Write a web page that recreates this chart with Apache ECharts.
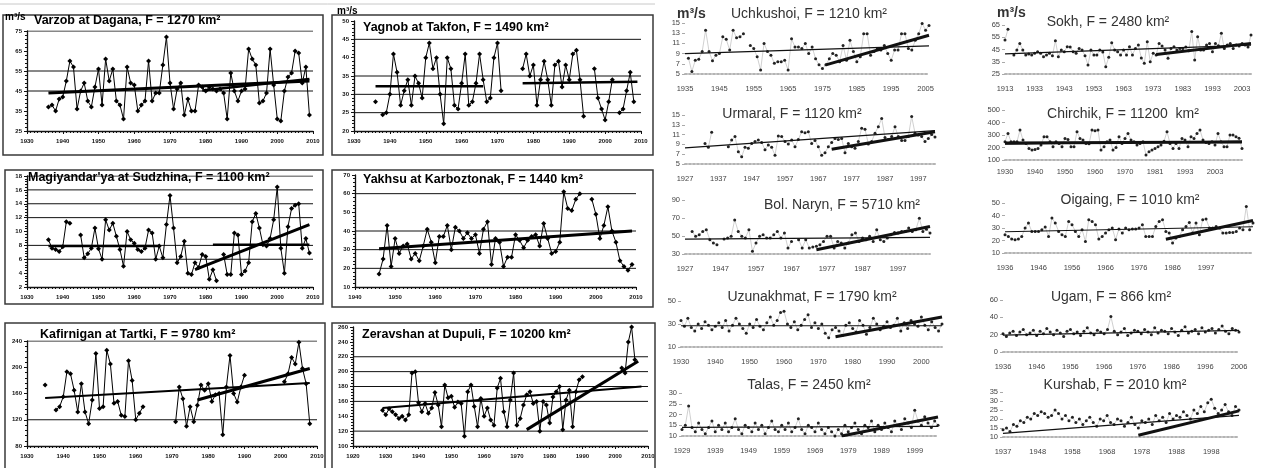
<!DOCTYPE html>
<html><head><meta charset="utf-8">
<script src="https://cdn.jsdelivr.net/npm/echarts@6/dist/echarts.min.js"></script>
<style>html,body{margin:0;padding:0;background:#fff}#c{width:1263px;height:468px}</style>
</head><body><div id="c"></div>
<script>
// ---------- helper for consecutive year categories ----------
function yrs(a, b) { const r = []; for (let y = a; y <= b; y++) r.push(y); return r; }

// ---------- LEFT (boxed) PANELS : annual values from a start year ----------
const varzobStart = 1936;
const varzobValues = [37,38,35,41,42,50,60,57,36,45, 49,40,37,47,56,38,61,50,56,40, 38,31,57,49,48,35,38,40,60,40, 44,44,58,72,49,36,46,49,33,41, 35,35,48,47,45,47,46,45,46,44, 31,54,45,40,45,46,66,61,58,39, 40,44,66,48,31,30,45,52,54,65, 64,49,57,33];
const varzobRefLines = [75,55,45];
const varzobTrendA = [[1936,44],[2009,50]];
const varzobTrendB = [[1979,45.3],[2009,51]];

const yagnobStart = 1936;
const yagnobValues = [28,null,24.4,25,30,41,36,27,31,34, 27,35,33,29,40,44,37,40,30,22, 40,37,27,26,33,41,27,28,33,41, 34,28,29,40,44,31,null,null,null,null, null,37,41,35,38,27,34,39,34,27, 38,39,32,38,34,41,42,34,24,null, null,37,29,26,23,28,34,null,25,26, 31,36,28];
const yagnobRefLines = [45,35,30,25];
const yagnobTrendA = [[1936,32.2],[1966,32.2]];
const yagnobTrendB = [[1977,33],[2009,33.4]];

const magiyStart = 1936;
const magiyValues = [8.8,7.6,7.4,7.1,7.8,11.4,11.2,null,null,9.5, 6.2,6.8,7.6,10.5,7.5,6,11.7,10.2,11.2,9.3, 7.4,5,10,8.8,8.3,7.4,7.1,7.6,10.2,9.8, 6,7.9,6.2,11,15.2,10.5,5.5,6.4,8.6,4, 3.8,5.5,4.8,6.7,6.4,3.1,4.5,2.9,null,6.7, 3.8,3.8,9.8,9.5,3.8,4.3,5.5,11.4,12.6,10.5, 8.1,7.9,9,11.7,16.4,7.6,4,10.7,13.3,13.8, 14,7.6,9,6.9];
const magiyRefLines = [18,16,14,12,8,6];
const magiyTrendA = [[1936,7.9],[1967,7.9]];
const magiyTrendB = [[1982,8.1],[2009,8.1]];
const magiyTrendC = [[1977,4.5],[2009,11]];

const yakhsuStart = 1946;
const yakhsuValues = [17,25,43,21,36,28,32,33,25,28, 24,32,41,34,23,37,37,43,30,42, 40,36,39,36,38,28,41,45,22,36, 34,21,26,26,38,35,31,35,37,38, 32,44,36,28,29,34,61,52,51,57, 60,null,null,57,49,36,43,53,40,34, 24,21,19,22];
const yakhsuRefLines = [60,40,30,20];
const yakhsuTrendA = [[1946,30.5],[2009,40]];

const kafirStart = 1935;
const kafirValues = [173,null,null,135,140,155,193,190,165,132, 175,132,114,150,221,137,140,226,205,145, 148,127,125,210,180,120,130,140,null,null, null,null,null,null,null,null,117,170,152,110, 140,117,142,173,165,175,148,158,160,97, 170,218,160,147,170,188,null,null,null,null, null,null,null,null,null,null,178,190,215,205, 238,198,175,114];
const kafirRefLines = [240,120];
const kafirTrendA = [[1935,153],[2008,176]];
const kafirTrendB = [[1977,150],[2008,198]];

const zeravStart = 1929;
const zeravValues = [148,142,150,146,142,137,140,135,142,198, 200,158,146,157,144,151,172,155,126,182, 165,167,152,159,157,113,173,182,153,126, 164,140,151,135,128,178,191,146,126,162, 198,128,137,155,169,173,157,160,120,160, 155,131,166,173,180,122,162,175,126,173, 189,193,null,null,null,null,null,null,null,null, null,null,null,205,198,240,260,216];
const zeravRefLines = [220,200,180,160,120];
const zeravTrendA = [[1929,151],[2008,180]];
const zeravTrendB = [[1973,122],[2007,214]];

// ---------- RIGHT PANELS : category (year) axes ----------
const uchkYears = yrs(1935, 2006);
const uchkTicks = ['1935','1945','1955','1965','1975','1985','1995','2005'];
const uchkValues = [null,8.1,5.5,7.7,7.9,9.4,13.6,9.4,7.6,8.7, 9,12.3,11.8,9.7,13.6,12.1,12.3,12.9,null,10.6, 10,8.4,5.8,11,9.4,8.7,7.1,7.4,7.4,7.7, 5.8,11.9,10.3,10.3,10,11,9,10.3,8,6.8, 6.1,6.8,8,9,8.7,7.4,10.6,7.7,11.6,9.4, 7.4,8.4,12.9,12.9,8.7,9.4,10,9.7,10.6,9, 7.7,9.7,9.7,12.9,12.9,10,9.7,11.6,12.9,14.9, 13.6,14.5];
const uchkTrendThin = [['1935',9.0],['2006',10.5]];
const uchkTrendThick = [['1976',6.8],['2006',12.6]];

const sokhYears = [1913].concat(yrs(1924, 2006));
const sokhTicks = ['1913','1933','1943','1953','1963','1973','1983','1993','2003'];
const sokhValues = [52.8,61.5,null,40.5,44.6,50,44.6,40.5,41.3,40.5, 41.9,43.2,41.9,39.1,40.5,41.9,40,52.2,39.1,44.6, 43.2,47.3,47,43.2,41.9,45.9,44.6,40,32.3,44.6, 40.5,40.5,44.6,43,31,38.6,50.6,44.6,43.2,40.5, 44.6,40.5,47.3,40.5,45.9,48.7,38,33.7,51.4,35, 41.9,40.5,50,47.9,44.6,37.8,45.9,47.3,44.6,45.9, 45.9,47,44,59.6,36.4,55.5,44.6,44.6,48.7,50, 43.2,50,48,58.2,45.9,48.7,50,45.9,48.7,47.9, 50,48.7,47,56.8];
const sokhTrendThin = [['1913',41.5],['2006',48.5]];
const sokhTrendThick = [['1974',41],['2006',50]];

const urmaralYears = yrs(1927, 2002);
const urmaralTicks = ['1927','1937','1947','1957','1967','1977','1987','1997'];
const urmaralValues = [null,null,null,null,null,null,9.2,8.4,11.5,null, null,null,null,8.5,9.9,10.6,7.5,6.5,8.4,8.2, 9.2,9.6,9.9,9.4,7.9,8.9,8.4,6.8,10.7,10.6, 9.6,9.1,9.9,8.5,10,11.6,11.4,11.6,9.2,9.8, 8.5,6.8,7.3,8.5,9.4,10.2,10,10.2,7.3,9.2, 8.5,8.2,9.6,12.3,12.1,9.1,9.6,11.3,12.6,14.3, 10.4,10,10.6,12.6,10.6,9.8,9.8,10.6,14.7,11.3, 10.9,10.6,9.6,10.2,11,10.5];
const urmaralTrendThin = [['1927',8.3],['2002',11.8]];
const urmaralTrendThick = [['1971',8],['2002',11.6]];

const chirYears = yrs(1930,1970).concat(yrs(1972,1981), yrs(1983,1987), yrs(1989,1993), yrs(1994,2003), yrs(2004,2012));
const chirTicks = ['1930','1940','1950','1960','1970','1981','1993','2003'];
const chirValues = [247,313,247,247,247,340,260,233,193,180, 185,193,220,287,287,247,207,247,233,207, 273,265,207,207,327,273,260,233,230,340, 335,340,180,207,247,260,180,200,287,233, 273,313,260,247,220,233,247,140,167,180, 193,207,220,250,327,233,193,233,193,273, 260,207,287,273,313,340,260,240,233,247, 220,313,247,207,207,300,300,287,275,193];
const chirTrendThin = [['1930',226],['2012',252]];
const chirTrendThick = [['1930',236],['2012',244]];

const narynYears = [1927].concat(yrs(1938, 2006));
const narynTicks = ['1927','1947','1957','1967','1977','1987','1997'];
const narynValues = [null,null,55,49.6,51.4,55,56.9,45.9,42.2,40.4, null,46.6,47.7,49.6,67.9,55,49.6,47.7,56.9,33, 42.2,49.6,51.4,47.7,47.7,51.4,55,47.7,53.2,36.7, 44,null,45.9,36.7,45.9,36.7,37.8,38.5,40.4,44, 49.6,49.6,36.7,44,42.2,36.7,42.2,51.4,53.2,44, 47.7,45.9,49.6,44,56.9,45.9,44,47.7,51.4,54, 53.2,55,55,58.8,55,56.9,69.8,55,57.6,53.2];
const narynTrendThin = [['1927',46.5],['2006',48.5]];
const narynTrendThick = [['1974',34.8],['2006',60.6]];

const oigYears = yrs(1936,1986).concat(yrs(1988,2011));
const oigTicks = ['1936','1946','1956','1966','1976','1986','1997'];
const oigValues = [24.7,23.3,21.2,20.7,21.2,23.3,30,34,27.3,27.3, 27.3,28.7,30.8,23.3,38,34,27.3,24.7,23.3,35.3, 32.7,27.3,23.3,28.7,19.3,36.7,35.3,32.7,21.2,23.3, 26,28.7,30,20.7,29.2,26,30,28.7,29.2,29.2, 30,32.7,23.3,23.3,23.3,31.3,35.3,36.7,27.3,26, 18,22,23.3,28.7,31.3,34.5,26,34,24.7,36.7, 37.2,30,30,31.3,30,26,26,26.5,26.5,27.3, 30,28.7,47.3,28.7,34];
const oigTrendThin = [['1936',27],['2011',31]];
const oigTrendThick = [['1984',21],['2011',36]];

const uzunYears = yrs(1930, 2006);
const uzunTicks = ['1930','1940','1950','1960','1970','1980','1990','2000'];
const uzunValues = [33,28,35,27,24,30,26,32,29,25, 28,31,27,33,24,29,35,30,26,22, 30,27,34,28,25,31,36,29,33,40, 41,30,27,32,25,29,34,38,27,31, 26,30,22,18,25,27,24,20,29,31, 26,23,33,29,21,27,35,30,25,28, 32,27,29,35,24,31,26,33,30,28, 36,29,25,32,27,24,30];
const uzunTrendThin = [['1930',28.5],['2006',28.5]];
const uzunTrendThick = [['1975',19],['2006',36]];

const ugamYears = yrs(1936, 2006);
const ugamTicks = ['1936','1946','1956','1966','1976','1986','1996','2006'];
const ugamValues = [21,18,22,24,19,23,26,20,22,25, 19,24,21,27,23,20,25,22,18,24, 26,21,23,19,24,28,22,20,25,23, 21,26,41,24,20,23,27,19,22,25, 24,21,26,23,20,28,22,25,24,21, 27,23,19,25,29,22,24,26,21,28, 23,25,27,22,26,30,24,21,27,25,23];
const ugamTrendThin = [['1936',19.5],['2006',25]];

const talasYears = yrs(1929, 2006);
const talasTicks = ['1929','1939','1949','1959','1969','1979','1989','1999'];
const talasValues = [13,15,24,14,12,16,13,11,14,17, 12,15,13,16,12,14,18,13,11,15, 14,12,16,13,15,11,14,17,13,12, 15,13,16,12,14,18,13,11,15,14, 12,16,13,11,14,12,10,13,11,15, 12,14,16,13,11,15,14,17,12,15, 13,16,14,12,17,15,13,18,16,14, 22,17,15,19,16,14,17,15];
const talasTrendThin = [['1929',14],['2006',14.5]];
const talasTrendThick = [['1977',10],['2006',18.8]];

const kurYears = [1937].concat(yrs(1939, 2006));
const kurTicks = ['1937','1948','1958','1968','1978','1988','1998'];
const kurValues = [14, 15,13,17,16,19,18,21,20,23,22, 24,23,21,22,25,23,20,22,19,21, 18,20,17,19,21,18,16,20,19,22, 18,17,20,19,16,18,21,17,15,19, 18,20,17,22,19,21,18,23,20,22, 21,24,22,20,25,23,27,24,29,31, 26,23,25,28,24,22,27,25];
const kurTrendThin = [['1937',12],['2006',22]];
const kurTrendThick = [['1977',11],['2006',24.5]];

// ---------- builders ----------
const grids = [], xAxes = [], yAxes = [], series = [], graphics = [];
const LFONT = '"Liberation Sans Narrow","Liberation Sans",Arial,sans-serif';
const RFONT = '"Liberation Sans",Arial,sans-serif';

function text(x, y, s, font, fill, align) {
  graphics.push({ type: 'text', x: x, y: y, z: 20,
    style: { text: s, font: font, fill: fill, textAlign: align || 'left', align: align || 'left', textVerticalAlign: 'middle', verticalAlign: 'middle' } });
}

function leftPanel(p) {
  const gi = grids.length;
  grids.push({ left: p.grid[0], top: p.grid[1], width: p.grid[2], height: p.grid[3], containLabel: false });
  xAxes.push({ type: 'value', gridIndex: gi, min: p.x[0], max: p.x[1], interval: 10,
    axisLine: { show: true, onZero: false, lineStyle: { color: '#111', width: 1.3 } },
    axisTick: { show: true, length: 3, lineStyle: { color: '#111' } },
    minorTick: { show: true, splitNumber: 10, length: 2, lineStyle: { color: '#111' } },
    axisLabel: { fontSize: 6, fontWeight: 'bold', color: '#111', margin: 7, fontFamily: RFONT, formatter: v => String(v) },
    splitLine: { show: false } });
  yAxes.push({ type: 'value', gridIndex: gi, min: p.y[0], max: p.y[1], interval: p.y[2],
    axisLine: { show: true, onZero: false, lineStyle: { color: '#111', width: 1.3 } },
    axisTick: { show: true, length: 3, lineStyle: { color: '#111' } },
    minorTick: { show: true, splitNumber: 5, length: 2, lineStyle: { color: '#111' } },
    axisLabel: { fontSize: 6, fontWeight: 'bold', color: '#111', margin: 5, fontFamily: RFONT, formatter: v => String(v) },
    splitLine: { show: false } });
  p.refs.forEach(v => series.push({ type: 'line', xAxisIndex: gi, yAxisIndex: gi, silent: true, z: 1,
    data: [[p.x[0], v], [p.x[1], v]], symbol: 'none', lineStyle: { color: '#111', width: 1 } }));
  series.push({ type: 'line', xAxisIndex: gi, yAxisIndex: gi, z: 3, connectNulls: false, showAllSymbol: true,
    data: p.values.map((v, i) => [p.start + i, v === null ? '-' : v]),
    symbol: 'diamond', symbolSize: 5, itemStyle: { color: '#000' }, lineStyle: { color: '#000', width: 1 } });
  p.trends.forEach(t => series.push({ type: 'line', xAxisIndex: gi, yAxisIndex: gi, z: 4, silent: true,
    data: t.pts, symbol: 'none', lineStyle: { color: '#000', width: t.w } }));
  graphics.push({ type: 'rect', z: 15, shape: { x: p.box[0], y: p.box[1], width: p.box[2], height: p.box[3] },
    style: { fill: 'none', stroke: '#3a3a3a', lineWidth: 1.5 } });
  text(p.titleAt[0], p.titleAt[1], p.title, 'bold 12.5px ' + LFONT, '#000');
  if (p.unit) text(p.unit[0], p.unit[1], 'm³/s', 'bold 10px ' + LFONT, '#000');
}

function rightPanel(p) {
  const gi = grids.length;
  grids.push({ left: p.grid[0], top: p.grid[1], width: p.grid[2], height: p.grid[3], containLabel: false });
  xAxes.push({ type: 'category', gridIndex: gi, data: p.years.map(String), boundaryGap: false,
    axisLine: { show: true, onZero: false, lineStyle: { color: '#b4b4b4', width: 2, type: [2, 2] } },
    axisTick: { show: false },
    axisLabel: { interval: (i, val) => p.ticks.includes(String(val)), fontSize: 7.5, color: '#444', margin: p.xMargin || 11, fontFamily: RFONT },
    splitLine: { show: false } });
  yAxes.push({ type: 'value', gridIndex: gi, min: p.y[0], max: p.y[1], interval: p.y[2],
    axisLine: { show: false },
    axisTick: { show: true, length: 3, lineStyle: { color: '#aaa' } },
    axisLabel: { fontSize: 7.5, color: '#444', margin: 5, fontFamily: RFONT },
    splitLine: { show: false } });
  series.push({ type: 'line', xAxisIndex: gi, yAxisIndex: gi, z: 3, connectNulls: false, showAllSymbol: true,
    data: p.values.map(v => v === null ? '-' : v),
    symbol: 'circle', symbolSize: 3, itemStyle: { color: '#222' }, lineStyle: { color: '#c4c4c4', width: 0.8 } });
  if (p.thin) series.push({ type: 'line', xAxisIndex: gi, yAxisIndex: gi, z: 4, silent: true,
    data: p.thin, symbol: 'none', lineStyle: { color: '#111', width: 1.2 } });
  if (p.thick) series.push({ type: 'line', xAxisIndex: gi, yAxisIndex: gi, z: 5, silent: true,
    data: p.thick, symbol: 'none', lineStyle: { color: '#111', width: 3 } });
  text(p.titleAt[0], p.titleAt[1], p.title, '14px ' + RFONT, '#333', 'center');
  if (p.unit) text(p.unit[0], p.unit[1], 'm³/s', 'bold 14px ' + RFONT, '#333');
}

// ---------- left panels ----------
leftPanel({ start: varzobStart, values: varzobValues, refs: varzobRefLines,
  trends: [{ pts: varzobTrendA, w: 3 }, { pts: varzobTrendB, w: 2.5 }],
  grid: [27, 31, 286, 100], x: [1930, 2010], y: [25, 75, 10], box: [3, 15, 320, 140],
  title: 'Varzob at Dagana, F = 1270 km²', titleAt: [34, 21], unit: [5, 17] });
leftPanel({ start: yagnobStart, values: yagnobValues, refs: yagnobRefLines,
  trends: [{ pts: yagnobTrendA, w: 2.5 }, { pts: yagnobTrendB, w: 2.5 }],
  grid: [354, 21, 287, 110], x: [1930, 2010], y: [20, 50, 5], box: [332, 15, 321, 140],
  title: 'Yagnob at Takfon, F = 1490 km²', titleAt: [363, 28], unit: [337, 11] });
leftPanel({ start: magiyStart, values: magiyValues, refs: magiyRefLines,
  trends: [{ pts: magiyTrendA, w: 2.5 }, { pts: magiyTrendB, w: 2.5 }, { pts: magiyTrendC, w: 3 }],
  grid: [27, 176, 286, 111], x: [1930, 2010], y: [2, 18, 2], box: [5, 170, 318, 134],
  title: "Magiyandar'ya at Sudzhina, F = 1100 km²", titleAt: [28, 178] });
leftPanel({ start: yakhsuStart, values: yakhsuValues, refs: yakhsuRefLines,
  trends: [{ pts: yakhsuTrendA, w: 3 }],
  grid: [355, 175, 281, 112], x: [1940, 2010], y: [10, 70, 10], box: [332, 170, 321, 137],
  title: 'Yakhsu at Karboztonak, F = 1440 km²', titleAt: [363, 180] });
leftPanel({ start: kafirStart, values: kafirValues, refs: kafirRefLines,
  trends: [{ pts: kafirTrendA, w: 2 }, { pts: kafirTrendB, w: 3 }],
  grid: [27, 341, 290, 105], x: [1930, 2010], y: [80, 240, 40], box: [5, 323, 320, 150],
  title: 'Kafirnigan at Tartki, F = 9780 km²', titleAt: [40, 335] });
leftPanel({ start: zeravStart, values: zeravValues, refs: zeravRefLines,
  trends: [{ pts: zeravTrendA, w: 2 }, { pts: zeravTrendB, w: 3 }],
  grid: [353, 327, 295, 119], x: [1920, 2010], y: [100, 260, 20], box: [332, 323, 323, 150],
  title: 'Zeravshan at Dupuli, F = 10200 km²', titleAt: [362, 335] });

// ---------- right panels ----------
rightPanel({ years: uchkYears, ticks: uchkTicks, values: uchkValues, thin: uchkTrendThin, thick: uchkTrendThick,
  grid: [685, 23, 244, 51], y: [5, 15, 2], title: 'Uchkushoi, F = 1210 km²', titleAt: [809, 14], unit: [677, 14] });
rightPanel({ years: sokhYears, ticks: sokhTicks, values: sokhValues, thin: sokhTrendThin, thick: sokhTrendThick,
  grid: [1005, 25, 246, 49], y: [25, 65, 10], title: 'Sokh, F = 2480 km²', titleAt: [1108, 22], unit: [997, 13] });
rightPanel({ years: urmaralYears, ticks: urmaralTicks, values: urmaralValues, thin: urmaralTrendThin, thick: urmaralTrendThick,
  grid: [685, 115, 250, 49], y: [5, 15, 2], title: 'Urmaral, F = 1120 km²', titleAt: [792, 114] });
rightPanel({ years: chirYears, ticks: chirTicks, values: chirValues, thin: chirTrendThin, thick: chirTrendThick,
  grid: [1005, 110, 237, 50], y: [100, 500, 100], title: 'Chirchik, F = 11200  km²', titleAt: [1123, 114], xMargin: 8 });
rightPanel({ years: narynYears, ticks: narynTicks, values: narynValues, thin: narynTrendThin, thick: narynTrendThick,
  grid: [685, 200, 245, 54], y: [30, 90, 20], title: 'Bol. Naryn, F = 5710 km²', titleAt: [842, 205] });
rightPanel({ years: oigYears, ticks: oigTicks, values: oigValues, thin: oigTrendThin, thick: oigTrendThick,
  grid: [1005, 203, 248, 50], y: [10, 50, 10], title: 'Oigaing, F = 1010 km²', titleAt: [1130, 200] });
rightPanel({ years: uzunYears, ticks: uzunTicks, values: uzunValues, thin: uzunTrendThin, thick: uzunTrendThick,
  grid: [681, 301, 261, 46], y: [10, 50, 20], title: 'Uzunakhmat, F = 1790 km²', titleAt: [812, 297] });
rightPanel({ years: ugamYears, ticks: ugamTicks, values: ugamValues, thin: ugamTrendThin,
  grid: [1003, 300, 236, 52], y: [0, 60, 20], title: 'Ugam, F = 866 km²', titleAt: [1111, 297] });
rightPanel({ years: talasYears, ticks: talasTicks, values: talasValues, thin: talasTrendThin, thick: talasTrendThick,
  grid: [682, 393, 256, 43], y: [10, 30, 5], title: 'Talas, F = 2450 km²', titleAt: [809, 385] });
rightPanel({ years: kurYears, ticks: kurTicks, values: kurValues, thin: kurTrendThin, thick: kurTrendThick,
  grid: [1003, 392, 236, 45], y: [10, 35, 5], title: 'Kurshab, F = 2010 km²', titleAt: [1115, 385] });

// thin rule at the top of the left figure
graphics.push({ type: 'line', z: 15, shape: { x1: 0, y1: 4, x2: 655, y2: 4 }, style: { stroke: '#c8c8c8', lineWidth: 1 } });

const chart = echarts.init(document.getElementById('c'), null, { renderer: 'canvas' });
chart.setOption({
  animation: false,
  backgroundColor: '#fff',
  grid: grids, xAxis: xAxes, yAxis: yAxes, series: series,
  graphic: { elements: graphics }
});
</script></body></html>
